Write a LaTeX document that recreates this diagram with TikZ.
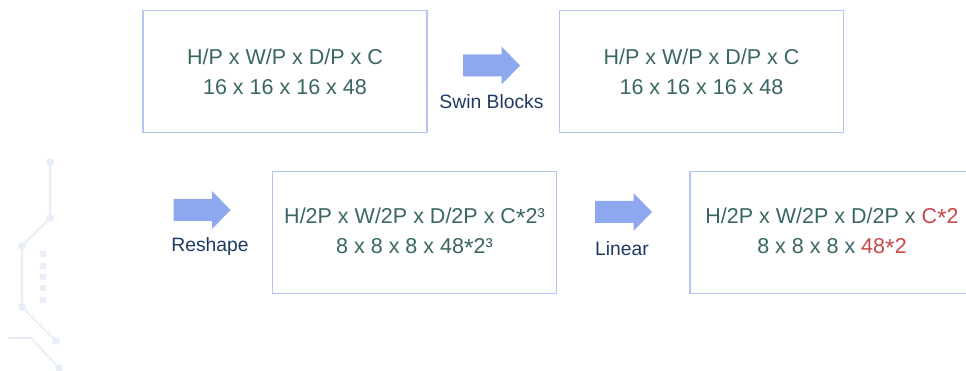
\documentclass[tikz,border=0pt]{standalone}
\usepackage{fontspec}
\setmainfont{Liberation Sans}
\definecolor{boxline}{HTML}{B3C4F5}
\definecolor{arrowfill}{HTML}{8EA8F0}
\definecolor{maintext}{HTML}{3A6664}
\definecolor{labeltext}{HTML}{1E3A62}
\definecolor{redtext}{HTML}{C9484A}
\definecolor{deco}{HTML}{E8EEF8}
\newcommand{\mast}{\raisebox{-0.25ex}{\scalebox{1.15}{*}}}
\begin{document}
\begin{tikzpicture}[x=1pt,y=-1pt,
  databox/.style={draw=boxline, line width=1.9pt, fill=white, minimum width=284pt, minimum height=122pt, inner sep=0pt,
    text=maintext, font=\fontsize{21.5}{30}\selectfont, align=center},
  steplabel/.style={text=labeltext, font=\fontsize{19.3}{22}\selectfont, inner sep=0pt},
  blockarrow/.pic={\fill[arrowfill] (-28.5,-11) -- (10,-11) -- (10,-19) -- (28.5,0) -- (10,19) -- (10,11) -- (-28.5,11) -- cycle;},
  decoline/.style={draw=deco, line width=2pt},
  decodot/.style={circle, fill=deco, minimum size=8pt, inner sep=0pt},
  decosq/.style={rectangle, fill=deco, minimum size=6.5pt, inner sep=0pt}]
\useasboundingbox (0,0) rectangle (966,371);
\clip (0,0) rectangle (966,371);
% decoration
\node[decodot] (d1) at (50,162) {};
\node[decodot] (d2) at (50,218) {};
\node[decodot] (d3) at (22,246) {};
\node[decodot] (d4) at (22,307) {};
\node[decodot] (d5) at (56,341) {};
\node[decodot] (d6) at (59,368) {};
\coordinate (e1) at (8,338);
\coordinate (e2) at (31,338);
\draw[decoline] (d1) -- (d2) -- (d3) -- (d4) -- (d5);
\draw[decoline] (e1) -- (e2) -- (d6);
\foreach \y/\n in {254/1,266/2,277/3,288/4,300/5} \node[decosq] (s\n) at (43,\y) {};
% boxes
\node[databox] (b1) at (285,71.5) {H/P x W/P x D/P x C\\16 x 16 x 16 x 48};
\node[databox] (b2) at (701.5,71.5) {H/P x W/P x D/P x C\\16 x 16 x 16 x 48};
\node[databox] (b3) at (414.5,232.5) {H/2P x W/2P x D/2P x C\mast2³\\8 x 8 x 8 x 48\mast2³};
\node[databox] (b4) at (832,232.5) {H/2P x W/2P x D/2P x \textcolor{redtext}{C\mast2}\\8 x 8 x 8 x \textcolor{redtext}{48\mast2}};
% arrows
\pic at (491.5,65.5) {blockarrow};
\node[steplabel] (l1) at (491.5,102) {Swin Blocks};
\pic at (202,210) {blockarrow};
\node[steplabel] (l2) at (210,247) {Reshape};
\pic at (623.5,212) {blockarrow};
\node[steplabel] (l3) at (622,249) {Linear};
\end{tikzpicture}
\end{document}
